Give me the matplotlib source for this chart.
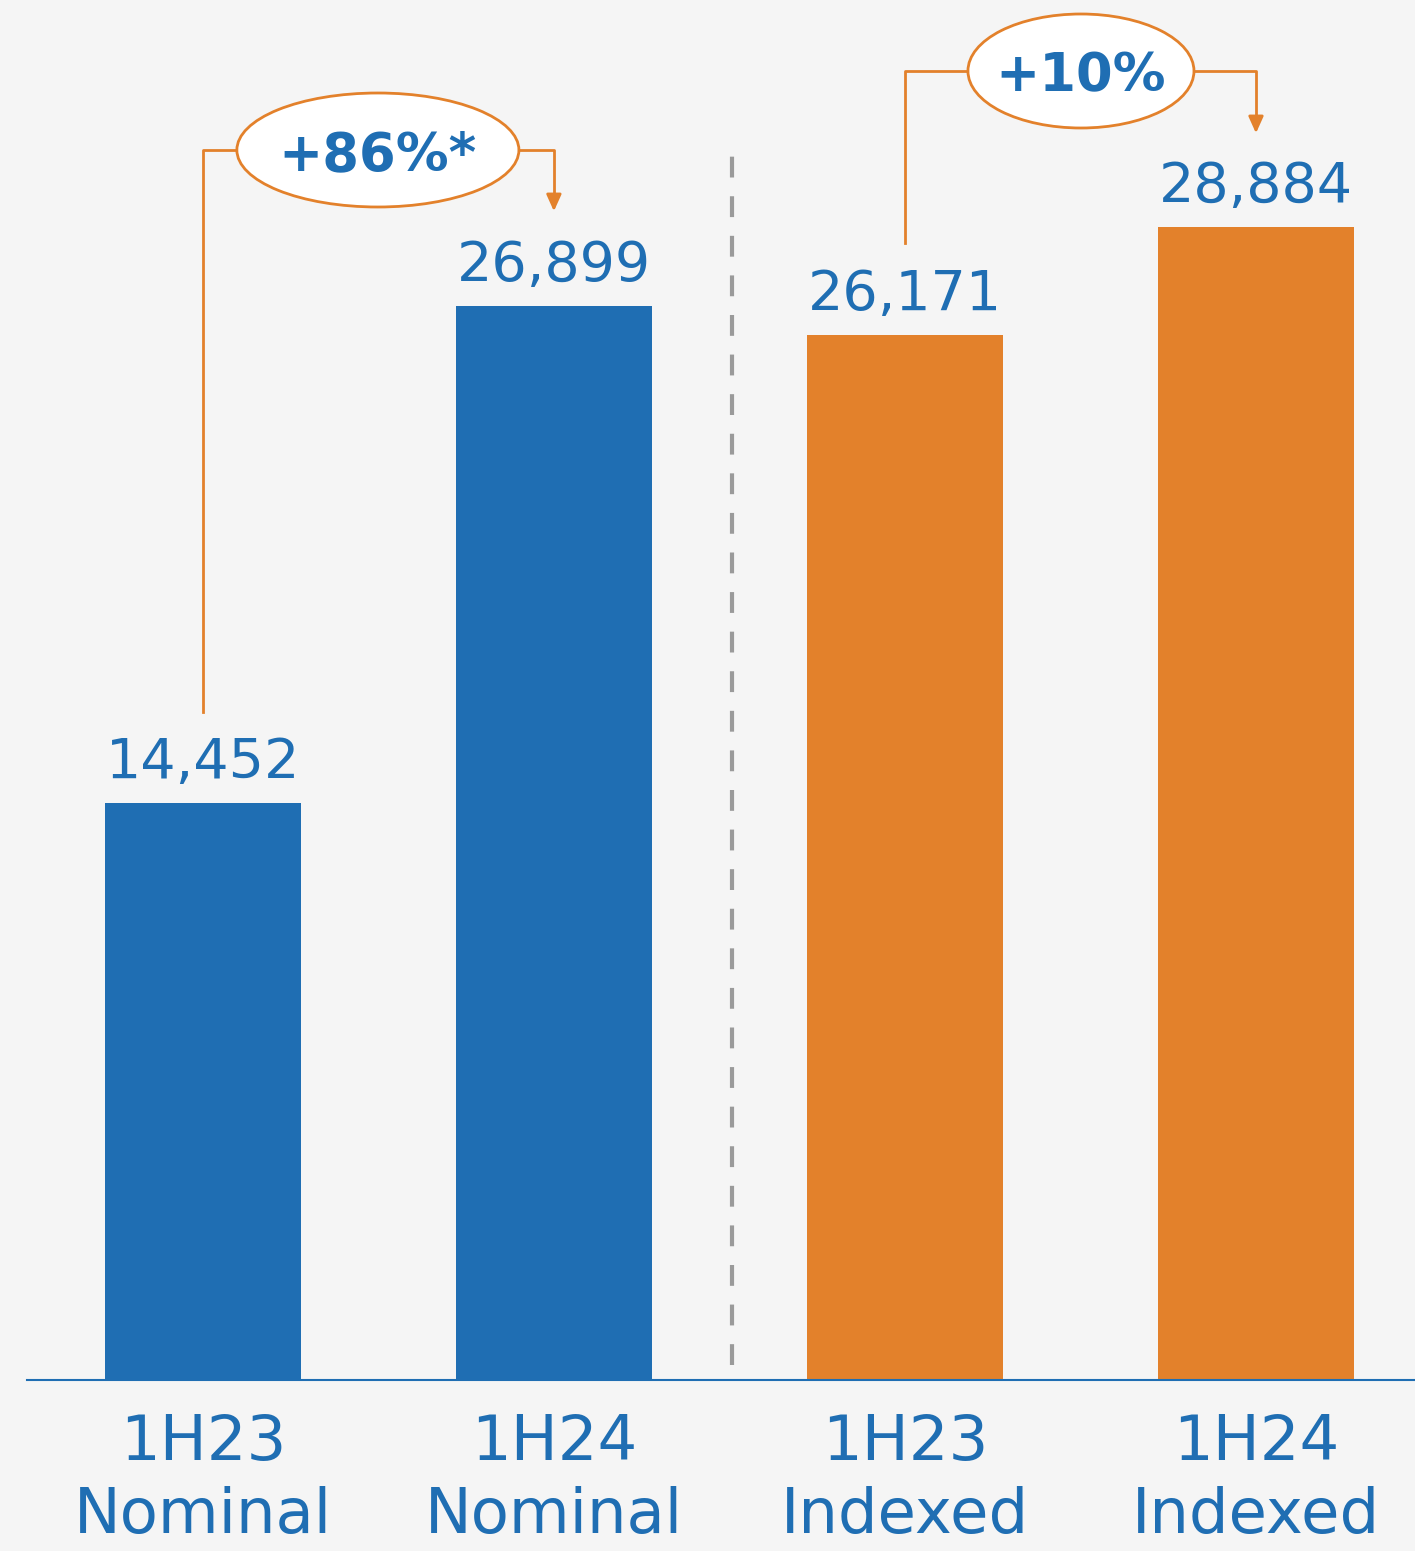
import matplotlib.pyplot as plt
from matplotlib.patches import Ellipse

plt.rcParams['font.family'] = ['DejaVu Sans']

categories = ['1H23\nNominal', '1H24\nNominal', '1H23\nIndexed', '1H24\nIndexed']
values = [14452, 26899, 26171, 28884]
growth_labels = ['+86%*', '+10%']

blue = '#1F6EB3'
orange = '#E3812B'
bg = '#F5F5F5'

W, H = 1415, 1551
fig = plt.figure(figsize=(W / 100, H / 100), dpi=100, facecolor=bg)
ax = fig.add_axes([27 / W, (H - 1380) / H, 1 - 27 / W, 1380 / H])
ax.set_facecolor(bg)

x = list(range(len(values)))
colors = [blue, blue, orange, orange]
ax.bar(x, values, width=0.558, color=colors, zorder=2)

ax.set_xlim(-0.501, 3.453)
ax.set_ylim(0, 34560)

# value labels
for xi, v in zip(x, values):
    ax.annotate(f'{v:,}', (xi, v), xytext=(0, 9), textcoords='offset points',
                ha='center', va='bottom', fontsize=40, color=blue)

# separator
ax.plot([1.507, 1.507], [376, 30800], color='#9A9A9A', lw=3,
        ls=(0, (5, 4.5)), zorder=1)

# axes styling
for s in ['top', 'right', 'left']:
    ax.spines[s].set_visible(False)
ax.spines['bottom'].set_color(blue)
ax.spines['bottom'].set_linewidth(1.5)
ax.set_yticks([])
ax.set_xticks(x)
ax.set_xticklabels(categories, fontsize=45, color=blue, linespacing=1.28)
ax.tick_params(axis='x', length=0, pad=24)

# growth brackets
px = 351.0          # pixels per x unit
py = 1380 / 34560   # pixels per y unit


def bracket(i0, i1, y_line, start_y, end_y, ecx, ew, label):
    ax.plot([i0, i0, ecx - ew / 2], [start_y, y_line, y_line],
            color=orange, lw=2, zorder=3)
    ax.plot([ecx + ew / 2, i1, i1], [y_line, y_line, end_y + 300],
            color=orange, lw=2, zorder=3)
    ax.annotate('', xy=(i1, end_y), xytext=(i1, end_y + 500),
                arrowprops=dict(arrowstyle='-|>,head_width=0.45,head_length=1.0',
                                color=orange, lw=2), zorder=3)
    ax.add_patch(Ellipse((ecx, y_line), ew, 114 / py, facecolor='white',
                         edgecolor=orange, lw=2, zorder=4))
    ax.text(ecx, y_line, label, ha='center', va='center_baseline',
            fontsize=38, fontweight='bold', color=blue, zorder=5)


bracket(0, 1, (1380 - 150) / py, (1380 - 712) / py, (1380 - 214) / py,
        (378 - 203) / px, 282 / px, growth_labels[0])
bracket(2, 3, (1380 - 71) / py, (1380 - 243) / py, (1380 - 136) / py,
        (1081 - 203) / px, 226 / px, growth_labels[1])

fig.savefig('out.png', dpi=100, facecolor=bg)
